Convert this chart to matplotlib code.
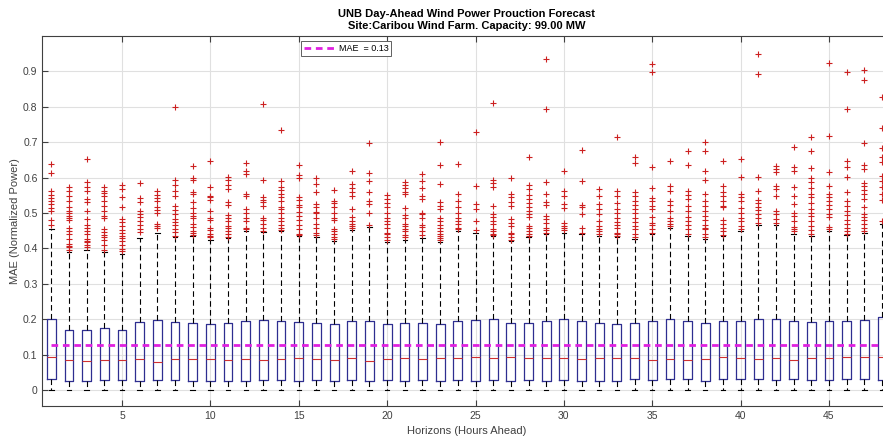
import matplotlib
matplotlib.use("Agg")
import matplotlib.pyplot as plt

plt.rcParams['font.family'] = ['Liberation Sans', 'DejaVu Sans']

horizons = list(range(1, 49))

q1 = [0.030, 0.025, 0.025, 0.028, 0.028, 0.026, 0.028, 0.028, 0.026, 0.026,
      0.026, 0.026, 0.028, 0.028, 0.027, 0.028, 0.026, 0.028, 0.027, 0.028,
      0.026, 0.028, 0.027, 0.028, 0.027, 0.028, 0.026, 0.028, 0.027, 0.028,
      0.027, 0.026, 0.026, 0.030, 0.028, 0.030, 0.032, 0.026, 0.030, 0.032,
      0.030, 0.028, 0.030, 0.028, 0.028, 0.032, 0.030, 0.028]
med = [0.092, 0.085, 0.082, 0.085, 0.085, 0.087, 0.080, 0.089, 0.089, 0.089,
       0.086, 0.089, 0.086, 0.089, 0.090, 0.087, 0.085, 0.090, 0.083, 0.087,
       0.090, 0.088, 0.090, 0.090, 0.093, 0.090, 0.093, 0.090, 0.090, 0.090,
       0.088, 0.090, 0.090, 0.090, 0.086, 0.088, 0.085, 0.088, 0.092, 0.090,
       0.088, 0.090, 0.085, 0.090, 0.090, 0.093, 0.093, 0.094]
q3 = [0.202, 0.171, 0.171, 0.174, 0.171, 0.193, 0.198, 0.191, 0.189, 0.186,
      0.189, 0.195, 0.198, 0.195, 0.193, 0.190, 0.186, 0.196, 0.195, 0.186,
      0.190, 0.190, 0.186, 0.195, 0.197, 0.200, 0.190, 0.190, 0.196, 0.200,
      0.196, 0.190, 0.186, 0.189, 0.194, 0.202, 0.195, 0.189, 0.194, 0.195,
      0.202, 0.202, 0.196, 0.192, 0.194, 0.194, 0.198, 0.205]
whisker_low = [0, 0, 0, 0, 0, 0, 0, 0, 0, 0, 0, 0, 0, 0, 0, 0, 0, 0, 0, 0, 0, 0, 0, 0,
               0, 0, 0, 0, 0, 0, 0, 0, 0, 0, 0, 0, 0, 0, 0, 0, 0, 0, 0, 0, 0, 0, 0, 0]
whisker_high = [0.455, 0.390, 0.395, 0.390, 0.385, 0.430, 0.445, 0.432, 0.435, 0.425,
                0.430, 0.448, 0.447, 0.448, 0.435, 0.433, 0.420, 0.452, 0.460, 0.418,
                0.425, 0.430, 0.418, 0.448, 0.445, 0.435, 0.420, 0.432, 0.440, 0.445,
                0.440, 0.436, 0.432, 0.428, 0.440, 0.458, 0.435, 0.428, 0.435, 0.448,
                0.465, 0.465, 0.442, 0.435, 0.448, 0.438, 0.445, 0.470]

outliers = [
    [0.639, 0.613, 0.563, 0.552, 0.543, 0.535, 0.526, 0.514, 0.505, 0.479, 0.467],
    [0.573, 0.562, 0.547, 0.535, 0.518, 0.507, 0.499, 0.493, 0.486, 0.479, 0.458, 0.450, 0.441, 0.427, 0.413, 0.408, 0.403, 0.396],
    [0.653, 0.587, 0.573, 0.562, 0.540, 0.530, 0.507, 0.483, 0.465, 0.458, 0.450, 0.441, 0.427, 0.422, 0.418, 0.411, 0.403],
    [0.573, 0.563, 0.556, 0.547, 0.535, 0.521, 0.507, 0.493, 0.486, 0.455, 0.446, 0.439, 0.432, 0.424, 0.411, 0.396],
    [0.578, 0.568, 0.545, 0.518, 0.483, 0.474, 0.462, 0.452, 0.443, 0.436, 0.429, 0.420, 0.411, 0.399, 0.392],
    [0.585, 0.542, 0.532, 0.507, 0.498, 0.488, 0.477, 0.465, 0.455, 0.446],
    [0.561, 0.551, 0.543, 0.535, 0.516, 0.509, 0.499, 0.469, 0.462, 0.458],
    [0.800, 0.592, 0.578, 0.563, 0.549, 0.521, 0.509, 0.498, 0.483, 0.474, 0.465, 0.455, 0.446, 0.436],
    [0.633, 0.600, 0.593, 0.558, 0.553, 0.530, 0.514, 0.501, 0.492, 0.487, 0.469, 0.461, 0.450, 0.445, 0.438],
    [0.647, 0.574, 0.549, 0.544, 0.536, 0.506, 0.487, 0.480, 0.459, 0.452, 0.440, 0.435, 0.431],
    [0.602, 0.593, 0.580, 0.567, 0.530, 0.523, 0.495, 0.487, 0.478, 0.464, 0.459, 0.450, 0.440, 0.433],
    [0.640, 0.619, 0.610, 0.553, 0.549, 0.511, 0.501, 0.485, 0.478, 0.459, 0.454],
    [0.808, 0.593, 0.544, 0.536, 0.530, 0.520, 0.487, 0.480, 0.470, 0.459, 0.450],
    [0.735, 0.591, 0.574, 0.565, 0.555, 0.544, 0.534, 0.518, 0.511, 0.501, 0.487, 0.478, 0.467, 0.459, 0.452],
    [0.635, 0.608, 0.600, 0.546, 0.536, 0.523, 0.516, 0.504, 0.492, 0.480, 0.467, 0.454, 0.442, 0.438],
    [0.600, 0.582, 0.558, 0.525, 0.516, 0.504, 0.499, 0.485, 0.470, 0.459, 0.445, 0.438],
    [0.565, 0.534, 0.527, 0.516, 0.501, 0.487, 0.480, 0.454, 0.448, 0.440, 0.433, 0.426],
    [0.619, 0.582, 0.570, 0.558, 0.549, 0.511, 0.489, 0.478, 0.470, 0.464, 0.459],
    [0.699, 0.614, 0.591, 0.558, 0.534, 0.525, 0.501, 0.467],
    [0.551, 0.539, 0.527, 0.516, 0.501, 0.487, 0.478, 0.469, 0.459, 0.445, 0.440, 0.431, 0.423],
    [0.588, 0.580, 0.570, 0.558, 0.553, 0.514, 0.495, 0.487, 0.470, 0.464, 0.454, 0.448, 0.438, 0.431],
    [0.610, 0.591, 0.572, 0.549, 0.539, 0.501, 0.497, 0.487, 0.467, 0.461, 0.450, 0.438],
    [0.702, 0.636, 0.583, 0.530, 0.520, 0.511, 0.485, 0.478, 0.467, 0.457, 0.450, 0.442, 0.436, 0.429, 0.423],
    [0.638, 0.553, 0.534, 0.516, 0.501, 0.487, 0.478, 0.469, 0.459, 0.454],
    [0.730, 0.575, 0.525, 0.511, 0.478, 0.452],
    [0.810, 0.593, 0.584, 0.574, 0.521, 0.497, 0.488, 0.478, 0.469, 0.455, 0.450, 0.442, 0.439],
    [0.599, 0.553, 0.544, 0.530, 0.521, 0.483, 0.473, 0.464, 0.445, 0.440, 0.431, 0.424],
    [0.659, 0.580, 0.568, 0.552, 0.539, 0.527, 0.516, 0.505, 0.497, 0.488, 0.464, 0.459, 0.450, 0.442, 0.436],
    [0.935, 0.795, 0.588, 0.555, 0.530, 0.523, 0.492, 0.483, 0.473, 0.459, 0.452, 0.445],
    [0.618, 0.563, 0.549, 0.525, 0.514, 0.473, 0.464, 0.459, 0.452],
    [0.679, 0.591, 0.523, 0.516, 0.497, 0.459, 0.445],
    [0.568, 0.549, 0.525, 0.511, 0.497, 0.478, 0.464, 0.455, 0.448, 0.440],
    [0.715, 0.563, 0.549, 0.527, 0.511, 0.501, 0.487, 0.476, 0.467, 0.457, 0.445, 0.440, 0.436],
    [0.659, 0.640, 0.558, 0.549, 0.534, 0.523, 0.511, 0.499, 0.485, 0.476, 0.464, 0.454, 0.442, 0.433],
    [0.921, 0.899, 0.631, 0.570, 0.542, 0.533, 0.520, 0.511, 0.489, 0.473, 0.467, 0.454, 0.445],
    [0.647, 0.577, 0.563, 0.533, 0.523, 0.506, 0.487, 0.478, 0.470, 0.464],
    [0.674, 0.635, 0.563, 0.551, 0.539, 0.520, 0.506, 0.489, 0.478, 0.467, 0.454, 0.440],
    [0.701, 0.674, 0.619, 0.594, 0.553, 0.534, 0.520, 0.506, 0.492, 0.480, 0.467, 0.459, 0.454, 0.440, 0.433],
    [0.647, 0.577, 0.558, 0.549, 0.534, 0.520, 0.517, 0.480, 0.470, 0.459, 0.450, 0.438],
    [0.652, 0.602, 0.555, 0.544, 0.533, 0.514, 0.499, 0.487, 0.478, 0.464, 0.454],
    [0.949, 0.892, 0.601, 0.561, 0.536, 0.527, 0.518, 0.508, 0.497, 0.486, 0.473],
    [0.634, 0.624, 0.615, 0.577, 0.568, 0.549, 0.505, 0.497, 0.483, 0.473],
    [0.687, 0.629, 0.619, 0.574, 0.549, 0.525, 0.499, 0.492, 0.478, 0.461, 0.455, 0.448],
    [0.714, 0.674, 0.627, 0.599, 0.589, 0.572, 0.553, 0.544, 0.527, 0.511, 0.499, 0.492, 0.478, 0.464, 0.452, 0.440],
    [0.923, 0.718, 0.615, 0.577, 0.553, 0.546, 0.535, 0.523, 0.511, 0.497, 0.488, 0.461, 0.455],
    [0.897, 0.794, 0.648, 0.629, 0.601, 0.558, 0.535, 0.521, 0.506, 0.495, 0.480, 0.470, 0.459, 0.450, 0.442],
    [0.904, 0.876, 0.697, 0.636, 0.624, 0.586, 0.577, 0.565, 0.553, 0.539, 0.516, 0.497, 0.489, 0.480, 0.469, 0.459, 0.450],
    [0.828, 0.740, 0.683, 0.657, 0.643, 0.605, 0.591, 0.574, 0.555, 0.536, 0.478],
]

mae = 0.127
mae_label = "MAE  = 0.13"

stats = []
for i in range(len(horizons)):
    stats.append({
        'q1': q1[i], 'med': med[i], 'q3': q3[i],
        'whislo': whisker_low[i], 'whishi': whisker_high[i],
        'fliers': outliers[i],
    })

text_col = '#404040'

fig = plt.figure(figsize=(8.83, 4.44), dpi=100)
ax = fig.add_axes([0.0481, 0.0856, 0.9608, 0.8333])

# matlab-style boxes: blue box, red median, dashed black whiskers, red + outliers
ax.bxp(stats, positions=horizons, widths=0.5, capwidths=0.25,
       manage_ticks=False, showfliers=True,
       boxprops=dict(color='#2e2e90', linewidth=0.9),
       medianprops=dict(color='#d03030', linewidth=0.8),
       whiskerprops=dict(color='black', linewidth=0.8, linestyle=(0, (5, 3))),
       capprops=dict(color='black', linewidth=0.8),
       flierprops=dict(marker='+', markeredgecolor='#cc2020', markersize=5,
                       markeredgewidth=0.8, linestyle='none'))

ax.plot([horizons[0], horizons[-1]], [mae, mae], color='#e020e0',
        linestyle=(0, (2.4, 1.7)), linewidth=2.0, label=mae_label, zorder=5)

ax.set_xlim(0.5, 48.5)
ax.set_ylim(-0.045, 1.0)
ax.set_xticks([5, 10, 15, 20, 25, 30, 35, 40, 45])
ax.set_yticks([0, 0.1, 0.2, 0.3, 0.4, 0.5, 0.6, 0.7, 0.8, 0.9])
ax.set_yticklabels(['0', '0.1', '0.2', '0.3', '0.4', '0.5', '0.6', '0.7', '0.8', '0.9'])
ax.grid(True, color='#e0e0e0', linewidth=0.8)
ax.set_axisbelow(True)
ax.tick_params(direction='in', length=4, labelsize=7.5, colors=text_col,
               top=True, right=True)
for s in ax.spines.values():
    s.set_color(text_col)
    s.set_linewidth(0.8)

ax.set_xlabel("Horizons (Hours Ahead)", fontsize=8, color=text_col, labelpad=4)
ax.set_ylabel("MAE (Normalized Power)", fontsize=8, color=text_col, labelpad=2)
ax.set_title("UNB Day-Ahead Wind Power Prouction Forecast\nSite:Caribou Wind Farm. Capacity: 99.00 MW",
             fontsize=8, fontweight='bold', color='black', linespacing=1.25, pad=5)

leg = ax.legend(loc='upper left', bbox_to_anchor=(0.2995, 1.0), fontsize=6.5,
                fancybox=False, framealpha=1, edgecolor='#606060',
                handlelength=3.4, borderpad=0.35, handletextpad=0.4)
leg.get_frame().set_linewidth(0.7)

fig.savefig("out.png", dpi=100)
